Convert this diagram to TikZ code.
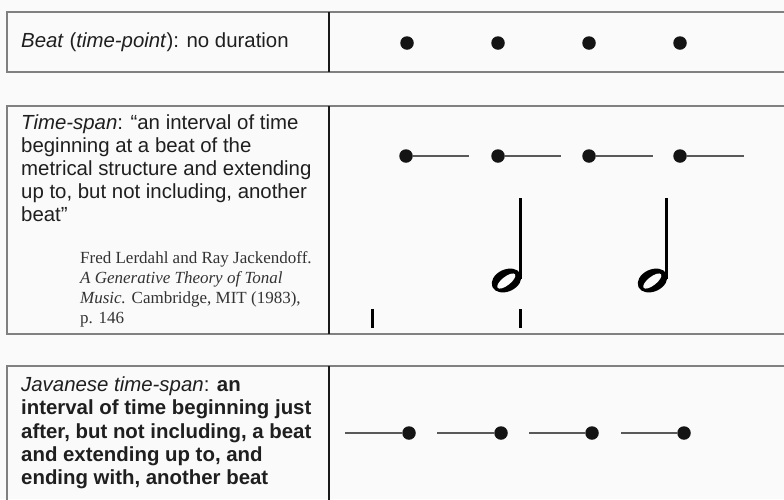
\documentclass[tikz,border=0pt]{standalone}
\usepackage{fontspec}
\setmainfont{Liberation Sans}
\newfontfamily\citefont{Liberation Serif}
\begin{document}
\begin{tikzpicture}[x=1pt,y=-1pt,
  frame/.style={draw=black!50, line width=1.4pt},
  divider/.style={draw=black!90, line width=2pt},
  txt/.style={anchor=base west, inner sep=0pt, font=\fontsize{20.4}{23}\selectfont, text=black!88},
  cite/.style={anchor=base west, inner sep=0pt, font=\citefont\fontsize{17}{20}\selectfont, text=black!80},
  beat/.style={circle, fill=black!92, inner sep=0pt, minimum size=13.5pt},
  span/.style={draw=black!65, line width=1.3pt},
  tick/.style={draw=black, line width=3pt},
  stem/.style={draw=black, line width=2.8pt},
]
\fill[white!98!black] (0,0) rectangle (784,499);
\useasboundingbox (0,0) rectangle (784,499);

% ---- row 1: beat as a time-point
\draw[frame] (7,12) rectangle (329,72);
\draw[frame] (329,12) -- (790,12) (329,72) -- (790,72);
\draw[divider] (329,12) -- (329,72);
\node[txt] (t1) at (21,47) {\textit{Beat} (\textit{time-point}): no duration};
\foreach \i/\x in {1/407,2/498,3/589,4/680}
  \node[beat] (p\i) at (\x,43) {};

% ---- row 2: Lerdahl--Jackendoff time-span
\draw[frame] (7,106) rectangle (329,334);
\draw[frame] (329,106) -- (790,106) (329,334) -- (790,334);
\draw[divider] (329,106) -- (329,334);
\node[txt] (s1) at (21,129) {\textit{Time-span}: “an interval of time};
\node[txt] (s2) at (21,152) {beginning at a beat of the};
\node[txt] (s3) at (21,175) {metrical structure and extending};
\node[txt] (s4) at (21,198) {up to, but not including, another};
\node[txt] (s5) at (21,221) {beat”};
\node[cite] (c1) at (80,263) {Fred Lerdahl and Ray Jackendoff.};
\node[cite] (c2) at (80,283) {\textit{A Generative Theory of Tonal}};
\node[cite] (c3) at (80,303) {\textit{Music.} Cambridge, MIT (1983),};
\node[cite] (c4) at (80,323) {p. 146};
\foreach \i/\x/\e in {1/406/469,2/498/561,3/589/653,4/680/744}{
  \node[beat] (q\i) at (\x,156) {};
  \coordinate (qe\i) at (\e,156);
  \draw[span] (q\i) -- (qe\i);
}
% half notes
\foreach \hx in {506.5,652.5}{
  \begin{scope}[shift={(\hx,280.5)}]
    \fill[black, rotate=25] (0,0) ellipse [x radius=15.5, y radius=11];
    \fill[white!98!black, rotate=38] (-0.5,0.3) ellipse [x radius=11, y radius=4.3];
    \draw[stem] (14.3,-82.5) -- (14.3,-2);
  \end{scope}
}
% bar ticks
\coordinate (k1a) at (372,309); \coordinate (k1b) at (372,328);
\coordinate (k2a) at (520,309); \coordinate (k2b) at (520,328);
\draw[tick] (k1a) -- (k1b);
\draw[tick] (k2a) -- (k2b);

% ---- row 3: Javanese time-span
\draw[frame] (7,510) -- (7,366) -- (790,366);
\draw[divider] (329,366) -- (329,510);
\node[txt] (j1) at (21,391) {\textit{Javanese time-span}: \textbf{an}};
\node[txt] (j2) at (21,414) {\textbf{interval of time beginning just}};
\node[txt] (j3) at (21,438) {\textbf{after, but not including, a beat}};
\node[txt] (j4) at (21,461) {\textbf{and extending up to, and}};
\node[txt] (j5) at (21,484) {\textbf{ending with, another beat}};
\foreach \i/\x/\s in {1/409/345,2/501/437,3/592/529,4/684/621}{
  \node[beat] (r\i) at (\x,433) {};
  \coordinate (rs\i) at (\s,433);
  \draw[span] (rs\i) -- (r\i);
}
\end{tikzpicture}
\end{document}
